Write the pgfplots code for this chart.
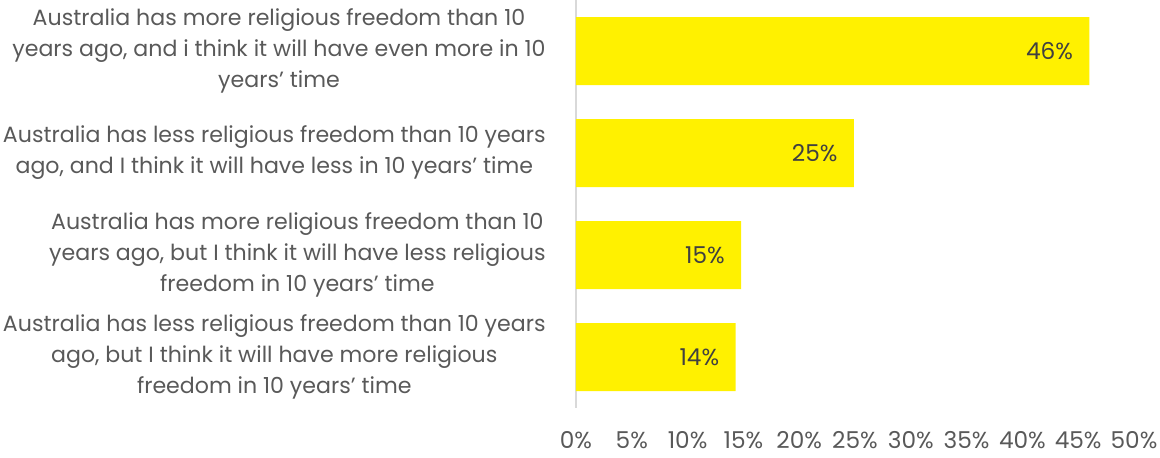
\documentclass[border=0pt]{standalone}
\usepackage{fontspec}
\setmainfont{Poppins}
\usepackage{pgfplots}
\pgfplotsset{compat=1.18}
\definecolor{baryellow}{HTML}{FFF100}
\definecolor{labgray}{HTML}{595959}
\definecolor{valgray}{HTML}{404040}
\definecolor{axgray}{HTML}{D9D9D9}
\begin{document}
\begin{tikzpicture}
\begin{axis}[
  at={(0,0)}, anchor=south west,
  width=279pt, height=204pt, scale only axis,
  /pgf/number format/assume math mode=true,
  xbar, bar width=34pt,
  xmin=0, xmax=50,
  ymin=-0.5, ymax=3.5, y dir=reverse,
  xtick={0,5,...,50},
  xticklabels={0\%,5\%,10\%,15\%,20\%,25\%,30\%,35\%,40\%,45\%,50\%},
  ytick={0,1,2,3},
  yticklabels={
    {Australia has more religious freedom than 10\\years ago, and i think it will have even more in 10\\years’ time},
    {Australia has less religious freedom than 10 years\\ago, and I think it will have less in 10 years’ time},
    {Australia has more religious freedom than 10\\years ago, but I think it will have less religious\\freedom in 10 years’ time},
    {Australia has less religious freedom than 10 years\\ago, but I think it will have more religious\\freedom in 10 years’ time}},
  major tick length=0pt,
  axis x line*=bottom, axis y line*=left,
  x axis line style={draw=none},
  y axis line style={draw=axgray, line width=0.75pt},
  yticklabel style={align=center, anchor=east, inner sep=0pt, xshift=-15pt,
    font=\fontsize{11.05}{15.5}\selectfont, text=labgray},
  xticklabel style={anchor=north, inner sep=0pt, yshift=-11.5pt,
    font=\fontsize{11.6}{12}\selectfont, text=labgray},
  nodes near coords={\pgfmathprintnumber{\pgfplotspointmeta}\%},
  nodes near coords style={anchor=east, xshift=-8pt, inner sep=0pt,
    font=\fontsize{11.6}{12}\selectfont, text=valgray},
  point meta=explicit,
  clip=false,
]
\addplot[fill=baryellow, draw=none] coordinates {
  (46,0) [46]
  (24.9,1) [25]
  (14.8,2) [15]
  (14.3,3) [14]
};
\end{axis}
\pgfresetboundingbox
\path (-288pt,-24.5pt) rectangle (292pt,204pt);
\end{tikzpicture}
\end{document}
